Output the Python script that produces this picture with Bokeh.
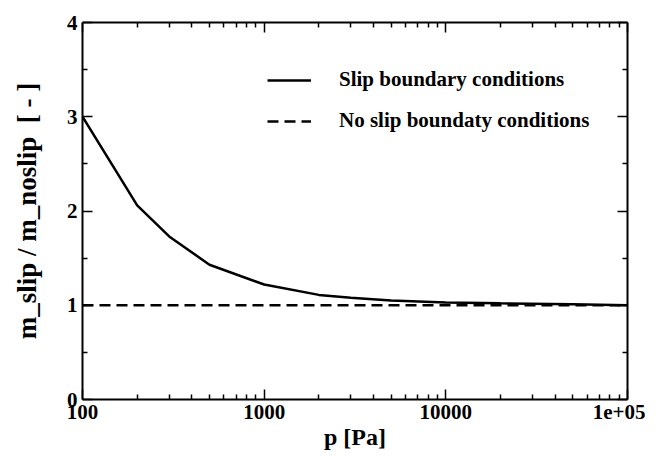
from bokeh.plotting import figure
from bokeh.models import LogAxis, LinearAxis, FixedTicker, Legend, LegendItem, Range1d
from bokeh.embed import file_html
from bokeh.resources import INLINE

pressure = [100, 200, 300, 500, 1000, 2000, 3000, 5000, 10000, 20000, 50000, 100000]
ratio_slip = [3.0, 2.06, 1.73, 1.43, 1.22, 1.11, 1.08, 1.05, 1.03, 1.02, 1.01, 1.0]
ratio_noslip = [1.0, 1.0, 1.0, 1.0, 1.0, 1.0, 1.0, 1.0, 1.0, 1.0, 1.0, 1.0]

x_major = [100, 1000, 10000, 100000]
x_labels = {100: "100", 1000: "1000", 10000: "10000", 100000: "1e+05"}
x_minor = [m * d for d in [100, 1000, 10000] for m in range(2, 10)]
y_major = [0, 1, 2, 3, 4]
y_minor = [0.5, 1.5, 2.5, 3.5]

FONT = "Liberation Serif"

p = figure(width=645, height=455, x_axis_type="log", output_backend="svg",
           toolbar_location=None, x_range=Range1d(100, 100000), y_range=Range1d(0, 4),
           min_border_left=82, min_border_right=18, min_border_top=22, min_border_bottom=56)
p.xgrid.visible = False
p.ygrid.visible = False
p.outline_line_color = None
p.background_fill_color = "white"
p.border_fill_color = "white"

r1 = p.line(pressure, ratio_slip, line_color="black", line_width=2.5)
r2 = p.line(pressure, ratio_noslip, line_color="black", line_width=2.5, line_dash="11 6")

def style(ax, labels=True):
    ax.axis_line_width = 2
    ax.axis_line_color = "black"
    ax.major_tick_in = 10
    ax.major_tick_out = 0
    ax.minor_tick_in = 5
    ax.minor_tick_out = 0
    ax.major_tick_line_width = 1.5
    ax.minor_tick_line_width = 1.5
    ax.major_tick_line_color = "black"
    ax.minor_tick_line_color = "black"
    ax.major_label_text_font = FONT
    ax.major_label_text_font_size = "21px"
    ax.major_label_text_font_style = "bold"
    ax.major_label_text_color = "black"
    ax.axis_label_text_font = FONT
    ax.axis_label_text_font_size = "24px"
    ax.axis_label_text_font_style = "bold"
    ax.axis_label_text_color = "black"
    if not labels:
        ax.major_label_text_font_size = "1px"
        ax.major_label_text_alpha = 0
        ax.major_label_standoff = 0

xt = FixedTicker(ticks=x_major, minor_ticks=x_minor)
yt = FixedTicker(ticks=y_major, minor_ticks=y_minor)

xa = p.xaxis[0]
xa.ticker = xt
xa.major_label_overrides = x_labels
xa.axis_label = "p [Pa]"
xa.major_label_standoff = 5
xa.axis_label_standoff = 2
style(xa)

ya = p.yaxis[0]
ya.ticker = yt
ya.axis_label = "m_slip / m_noslip\u00a0\u00a0[\u00a0-\u00a0]"
ya.major_label_standoff = 5
ya.axis_label_standoff = 22
style(ya)
ya.axis_label_text_font_size = "27px"

top = LogAxis(ticker=FixedTicker(ticks=x_major, minor_ticks=x_minor))
style(top, labels=False)
p.add_layout(top, "above")
right = LinearAxis(ticker=FixedTicker(ticks=y_major, minor_ticks=y_minor))
style(right, labels=False)
p.add_layout(right, "right")

legend = Legend(items=[LegendItem(label="Slip boundary conditions", renderers=[r1]),
                       LegendItem(label="No slip boundaty conditions", renderers=[r2])],
                location=(185, 266))
legend.border_line_color = None
legend.background_fill_alpha = 0
legend.label_text_font = FONT
legend.label_text_font_size = "21px"
legend.label_text_font_style = "bold"
legend.label_text_color = "black"
legend.glyph_width = 44
legend.glyph_height = 20
legend.label_height = 20
legend.label_standoff = 28
legend.spacing = 16
legend.padding = 0
legend.margin = 0
p.add_layout(legend, "center")

open("out.html", "w").write(file_html(p, INLINE))
